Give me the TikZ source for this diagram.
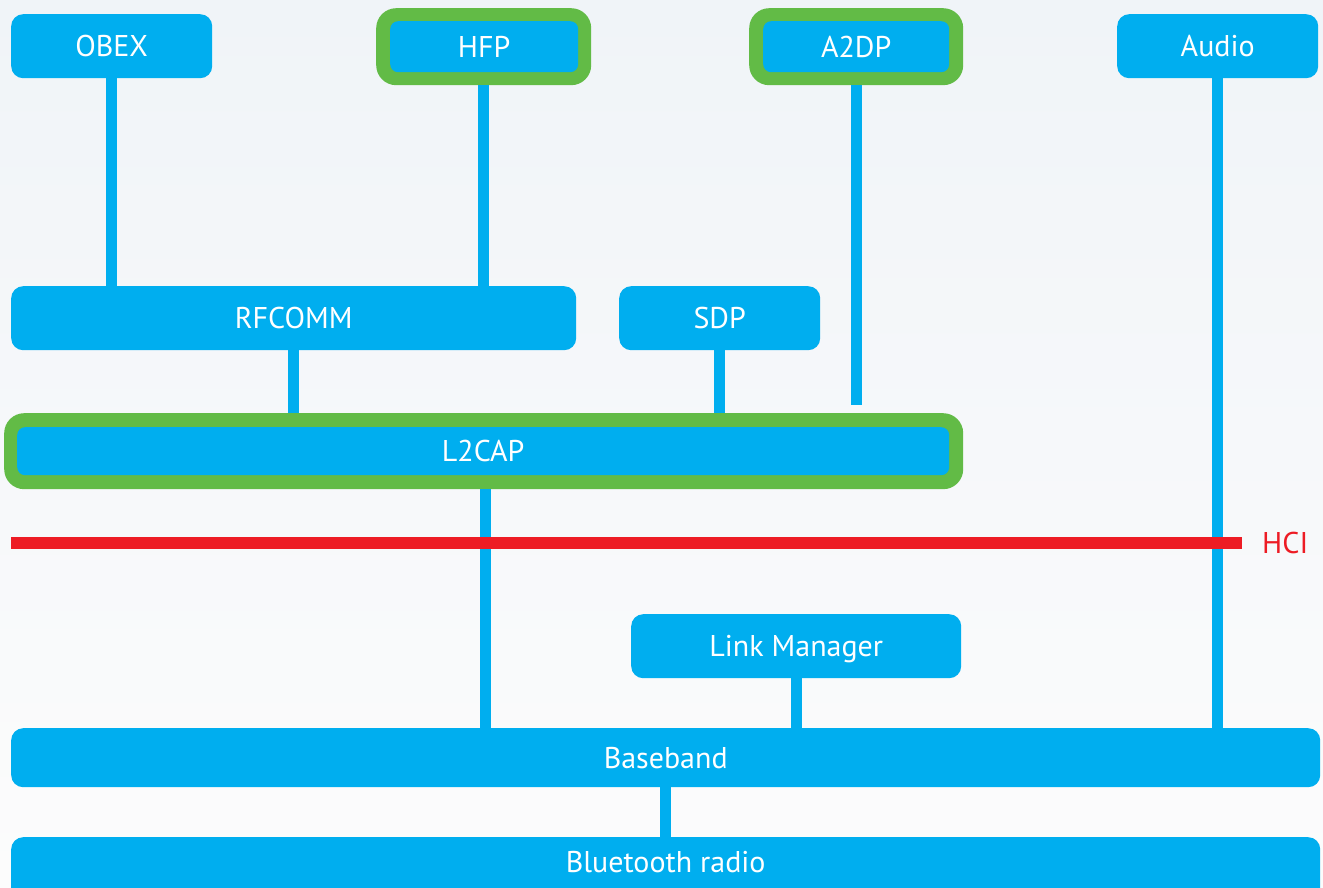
\documentclass[tikz,border=0pt]{standalone}
\usepackage{fontspec}
\setmainfont{PT Sans}
\usetikzlibrary{calc}
\definecolor{bblue}{RGB}{0,174,239}
\definecolor{bgreen}{RGB}{98,187,70}
\definecolor{hcired}{RGB}{237,28,36}
\definecolor{bgtop}{RGB}{240,244,248}
\definecolor{bgbot}{RGB}{252,252,252}
\tikzset{
  box/.style={fill=bblue, draw=none, rounded corners=12pt, anchor=north west,
    inner sep=0pt, text=white, font=\fontsize{30}{35}\selectfont,
    text height=21pt, text depth=0pt},
  inbox/.style={fill=bblue, draw=none, rounded corners=8pt, anchor=north west,
    inner sep=0pt, text=white, font=\fontsize{30}{35}\selectfont,
    text height=21pt, text depth=0pt},
  frame/.style={fill=bgreen, draw=none, rounded corners=20pt, anchor=north west, inner sep=0pt},
  conn/.style={draw=bblue, line width=11pt},
  hci/.style={draw=hcired, line width=12pt}
}
\begin{document}
\begin{tikzpicture}[x=1pt,y=-1pt]
\shade[top color=bgtop, bottom color=bgbot] (0,0) rectangle (1323,888);
\useasboundingbox (0,0) rectangle (1323,888);
% top row
\node[box, minimum width=201pt, minimum height=64pt] (obex) at (11,14) {OBEX};
\node[frame, minimum width=215pt, minimum height=77pt] (hfpo) at (376,8) {};
\node[inbox, minimum width=188pt, minimum height=51pt] (hfp) at (390,21) {HFP};
\node[frame, minimum width=214pt, minimum height=77pt] (a2dpo) at (749,8) {};
\node[inbox, minimum width=186pt, minimum height=51pt] (a2dp) at (763,21) {A2DP};
\node[box, minimum width=201pt, minimum height=64pt] (audio) at (1117,14) {Audio};
% middle
\node[box, minimum width=565pt, minimum height=64pt] (rfcomm) at (11,286) {RFCOMM};
\node[box, minimum width=201pt, minimum height=64pt] (sdp) at (619,286) {SDP};
\node[frame, minimum width=959pt, minimum height=76pt] (l2capo) at (4,413) {};
\node[inbox, minimum width=932pt, minimum height=48pt] (l2cap) at (17,427) {L2CAP};
% lower
\node[box, minimum width=330pt, minimum height=64pt] (lm) at (631,614) {Link Manager};
\node[box, minimum width=1309pt, minimum height=59pt] (baseband) at (11,728) {Baseband};
\node[box, minimum width=1309pt, minimum height=64pt, text depth=14pt] (radio) at (11,837) {Bluetooth radio};
\coordinate (a2dpend) at (856,405);
% connectors
\draw[conn] (obex.south) -- (obex.south |- rfcomm.north);
\draw[conn] (hfpo.south) -- (hfpo.south |- rfcomm.north);
\draw[conn] (a2dpo.south) -- (a2dpo.south |- a2dpend);
\draw[conn] (audio.south) -- (audio.south |- baseband.north);
\draw[conn] (rfcomm.south) -- (rfcomm.south |- l2capo.north);
\draw[conn] (sdp.south) -- (sdp.south |- l2capo.north);
\draw[conn] ($(l2capo.south)+(1.5,0)$) -- ($(l2capo.south |- baseband.north)+(1.5,0)$);
\draw[conn] (lm.south) -- (lm.south |- baseband.north);
\draw[conn] (baseband.south) -- (baseband.south |- radio.north);
% HCI
\coordinate (hcistart) at (11,543);
\node[anchor=west, inner sep=0pt, text=hcired, font=\fontsize{30}{35}\selectfont,
  text height=21pt, text depth=0pt] (hcilabel) at (1262,543) {HCI};
\draw[hci] (hcistart) -- ($(hcilabel.west)+(-20,0)$);
\end{tikzpicture}
\end{document}
